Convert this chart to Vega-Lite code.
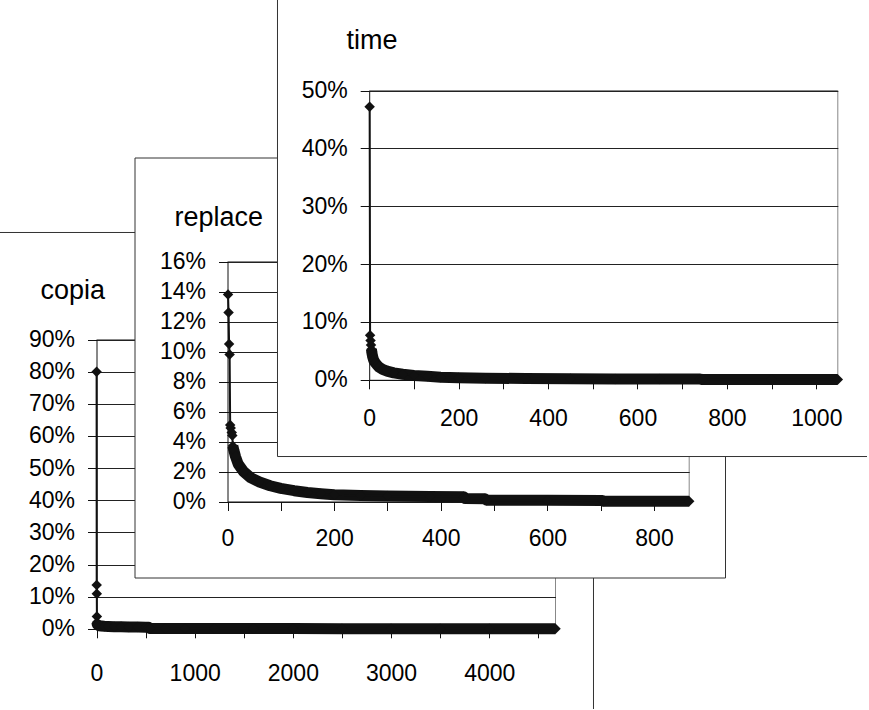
{
  "$schema": "https://vega.github.io/schema/vega-lite/v6.json",
  "padding": {"left": -30, "top": -20, "right": -6, "bottom": -6},
  "background": "white",
  "datasets": {
    "c": [
      {"x":1,"y":80},{"x":2,"y":13.6},{"x":3,"y":10.9},{"x":4,"y":3.8},{"x":5,"y":2.0},{"x":7,"y":1.5},{"x":10,"y":1.3},{"x":15,"y":1.15},{"x":20,"y":1.05},{"x":30,"y":0.95},{"x":50,"y":0.85},{"x":80,"y":0.78},{"x":120,"y":0.72},{"x":180,"y":0.67},{"x":250,"y":0.62},{"x":330,"y":0.58},{"x":420,"y":0.55},{"x":500,"y":0.52},{"x":530,"y":0.5},{"x":545,"y":0.12},{"x":700,"y":0.1},{"x":900,"y":0.09},{"x":1200,"y":0.08},{"x":1600,"y":0.07},{"x":2000,"y":0.06},{"x":2500,"y":0.05},{"x":3000,"y":0.045},{"x":3500,"y":0.04},{"x":4000,"y":0.035},{"x":4675,"y":0.03}
    ],
    "r": [
      {"x":1,"y":13.8},{"x":2,"y":12.6},{"x":3,"y":10.5},{"x":4,"y":9.8},{"x":5,"y":5.1},{"x":6,"y":4.9},{"x":8,"y":4.6},{"x":9,"y":4.4},{"x":10,"y":3.7},{"x":12,"y":3.4},{"x":15,"y":3.0},{"x":20,"y":2.5},{"x":30,"y":2.0},{"x":43,"y":1.6},{"x":60,"y":1.3},{"x":80,"y":1.05},{"x":100,"y":0.87},{"x":125,"y":0.72},{"x":150,"y":0.6},{"x":175,"y":0.52},{"x":200,"y":0.45},{"x":250,"y":0.4},{"x":300,"y":0.36},{"x":380,"y":0.33},{"x":443,"y":0.32},{"x":446,"y":0.2},{"x":483,"y":0.19},{"x":486,"y":0.09},{"x":600,"y":0.08},{"x":703,"y":0.07},{"x":706,"y":0.02},{"x":866,"y":0.02}
    ],
    "t": [
      {"x":1,"y":47.2},{"x":2,"y":7.7},{"x":3,"y":6.8},{"x":4,"y":6.0},{"x":5,"y":5.3},{"x":6,"y":4.7},{"x":7,"y":4.3},{"x":8,"y":3.9},{"x":10,"y":3.4},{"x":13,"y":3.0},{"x":17,"y":2.6},{"x":22,"y":2.2},{"x":30,"y":1.8},{"x":40,"y":1.5},{"x":55,"y":1.2},{"x":75,"y":0.95},{"x":100,"y":0.75},{"x":130,"y":0.6},{"x":160,"y":0.45},{"x":200,"y":0.35},{"x":260,"y":0.28},{"x":350,"y":0.22},{"x":450,"y":0.18},{"x":550,"y":0.15},{"x":650,"y":0.13},{"x":740,"y":0.12},{"x":745,"y":0.06},{"x":900,"y":0.05},{"x":1048,"y":0.04}
    ]
  },
  "config": {
    "view": {"stroke": null, "fill": null},
    "axis": {"labelFont": "Liberation Sans", "labelFontSize": 23, "labelColor": "#000", "domainColor": "#111", "domainWidth": 1, "tickColor": "#111", "tickWidth": 1, "tickSize": 9, "gridColor": "#222", "gridWidth": 1, "labelFlush": false, "labelOverlap": false},
    "title": {"font": "Liberation Sans", "fontSize": 27, "fontWeight": "normal", "color": "#000", "anchor": "start", "frame": "group", "offset": 0, "baseline": "alphabetic"}
  },
  "spacing": 0,
  "bounds": "flush",
  "hconcat": [
    {
      "width": 1, "height": 10,
      "data": {"values": [{}]},
      "encoding": {
        "x": {"type": "quantitative", "scale": {"domain": [0, 4675], "range": [125.5, 584.5], "nice": false, "zero": false}, "axis": null},
        "y": {"type": "quantitative", "scale": {"domain": [0, 90], "range": [647.8, 358.5], "nice": false, "zero": false}, "axis": null}
      },
      "layer": [
        {"mark": {"type": "rect", "fill": "white", "stroke": "#333", "strokeWidth": 1}, "encoding": {"x": {"datum": -1278.2}, "x2": {"datum": 5062}, "y": {"datum": 123.29}, "y2": {"datum": -26.35}}},
        {"mark": {"type": "rule", "color": "#888", "strokeWidth": 1}, "encoding": {"x": {"datum": 4675}, "y": {"datum": 0}, "y2": {"datum": 90}}},
        {"mark": {"type": "rule", "color": "#888", "strokeWidth": 1}, "encoding": {"x": {"datum": 0}, "x2": {"datum": 4675}, "y": {"datum": 90}}}
      ]
    },
    {
      "width": 163, "height": 10,
      "title": {"text": "copia", "dx": 68.5, "dy": 327.5},
      "data": {"name": "c"},
      "encoding": {
        "x": {"field": "x", "type": "quantitative", "scale": {"domain": [0, 4675], "range": [124.5, 583.5], "nice": false, "zero": false},
              "axis": {"title": null, "grid": false, "offset": 637.8, "values": [0,500,1000,1500,2000,2500,3000,3500,4000,4500], "labelExpr": "datum.value % 1000 === 0 ? '' + datum.value : ''", "labelPadding": 25}},
        "y": {"field": "y", "type": "quantitative", "scale": {"domain": [0, 90], "range": [647.8, 358.5], "nice": false, "zero": false},
              "axis": {"title": null, "grid": true, "offset": -124.5, "values": [0,10,20,30,40,50,60,70,80,90], "labelExpr": "datum.value + '%'", "labelPadding": 13}}
      },
      "layer": [
        {"transform": [{"filter": "datum.x >= 5"}], "mark": {"type": "line", "color": "#111", "strokeWidth": 11, "strokeJoin": "round"}, "encoding": {}},
        {"mark": {"type": "line", "color": "#111", "strokeWidth": 2}, "encoding": {}},
        {"mark": {"type": "point", "shape": "diamond", "filled": true, "size": 110, "color": "#111", "opacity": 1}, "encoding": {}}
      ]
    },
    {
      "width": 1, "height": 10,
      "data": {"values": [{}]},
      "encoding": {
        "x": {"type": "quantitative", "scale": {"domain": [0, 866], "range": [92.5, 554.2], "nice": false, "zero": false}, "axis": null},
        "y": {"type": "quantitative", "scale": {"domain": [0, 16], "range": [520.5, 280.5], "nice": false, "zero": false}, "axis": null}
      },
      "layer": [
        {"mark": {"type": "rect", "fill": "white", "stroke": "#333", "strokeWidth": 1}, "encoding": {"x": {"datum": -173.5}, "x2": {"datum": 934.1}, "y": {"datum": 22.9}, "y2": {"datum": -5.1}}},
        {"mark": {"type": "rule", "color": "#888", "strokeWidth": 1}, "encoding": {"x": {"datum": 866}, "y": {"datum": 0}, "y2": {"datum": 16}}},
        {"mark": {"type": "rule", "color": "#888", "strokeWidth": 1}, "encoding": {"x": {"datum": 0}, "x2": {"datum": 866}, "y": {"datum": 16}}}
      ]
    },
    {
      "width": 142, "height": 10,
      "title": {"text": "replace", "dx": 38.5, "dy": 254.5},
      "data": {"name": "r"},
      "encoding": {
        "x": {"field": "x", "type": "quantitative", "scale": {"domain": [0, 866], "range": [91.5, 553.2], "nice": false, "zero": false},
              "axis": {"title": null, "grid": false, "offset": 510.5, "values": [0,100,200,300,400,500,600,700,800], "labelExpr": "datum.value % 200 === 0 ? '' + datum.value : ''", "labelPadding": 17}},
        "y": {"field": "y", "type": "quantitative", "scale": {"domain": [0, 16], "range": [520.5, 280.5], "nice": false, "zero": false},
              "axis": {"title": null, "grid": true, "offset": -91.5, "values": [0,2,4,6,8,10,12,14,16], "labelExpr": "datum.value + '%'", "labelPadding": 13}}
      },
      "layer": [
        {"transform": [{"filter": "datum.x >= 10"}], "mark": {"type": "line", "color": "#111", "strokeWidth": 11, "strokeJoin": "round"}, "encoding": {}},
        {"mark": {"type": "line", "color": "#111", "strokeWidth": 2}, "encoding": {}},
        {"mark": {"type": "point", "shape": "diamond", "filled": true, "size": 110, "color": "#111", "opacity": 1}, "encoding": {}}
      ]
    },
    {
      "width": 1, "height": 10,
      "data": {"values": [{}]},
      "encoding": {
        "x": {"type": "quantitative", "scale": {"domain": [0, 1048], "range": [91.2, 559.8], "nice": false, "zero": false}, "axis": null},
        "y": {"type": "quantitative", "scale": {"domain": [0, 50], "range": [398.8, 109.5], "nice": false, "zero": false}, "axis": null}
      },
      "layer": [
        {"mark": {"type": "rect", "fill": "white", "stroke": "#333", "strokeWidth": 1}, "encoding": {"x": {"datum": -205.1}, "x2": {"datum": 1125.6}, "y": {"datum": 68.93}, "y2": {"datum": -13.26}}},
        {"mark": {"type": "rule", "color": "#888", "strokeWidth": 1}, "encoding": {"x": {"datum": 1048}, "y": {"datum": 0}, "y2": {"datum": 50}}},
        {"mark": {"type": "rule", "color": "#888", "strokeWidth": 1}, "encoding": {"x": {"datum": 0}, "x2": {"datum": 1048}, "y": {"datum": 50}}}
      ]
    },
    {
      "width": 20, "height": 10,
      "title": {"text": "time", "dx": 67.5, "dy": 77.5},
      "data": {"name": "t"},
      "encoding": {
        "x": {"field": "x", "type": "quantitative", "scale": {"domain": [0, 1048], "range": [90.2, 558.8], "nice": false, "zero": false},
              "axis": {"title": null, "grid": false, "offset": 388.8, "values": [0,100,200,300,400,500,600,700,800,900,1000], "labelExpr": "datum.value % 200 === 0 ? '' + datum.value : ''", "labelPadding": 19}},
        "y": {"field": "y", "type": "quantitative", "scale": {"domain": [0, 50], "range": [398.8, 109.5], "nice": false, "zero": false},
              "axis": {"title": null, "grid": true, "offset": -90.2, "values": [0,10,20,30,40,50], "labelExpr": "datum.value + '%'", "labelPadding": 13}}
      },
      "layer": [
        {"transform": [{"filter": "datum.x >= 5"}], "mark": {"type": "line", "color": "#111", "strokeWidth": 11, "strokeJoin": "round"}, "encoding": {}},
        {"mark": {"type": "line", "color": "#111", "strokeWidth": 2}, "encoding": {}},
        {"mark": {"type": "point", "shape": "diamond", "filled": true, "size": 110, "color": "#111", "opacity": 1}, "encoding": {}}
      ]
    }
  ]
}
